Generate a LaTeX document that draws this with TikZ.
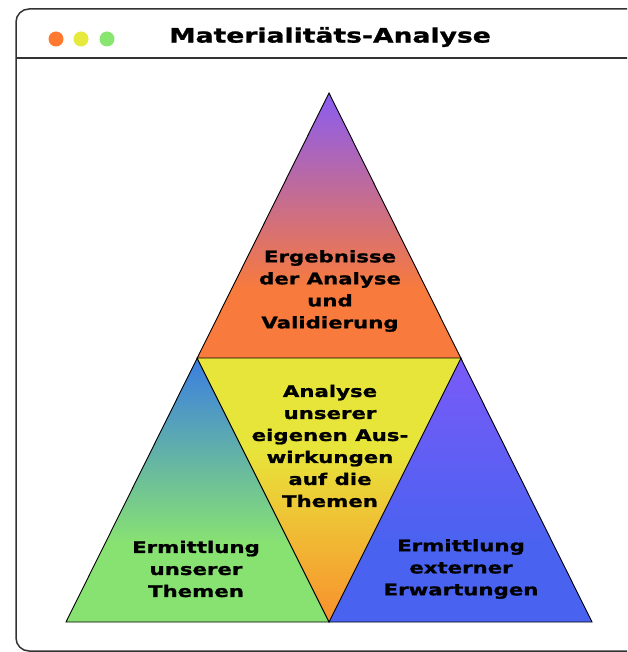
\documentclass[tikz,border=0pt]{standalone}
\usepackage{fontspec}
\usepackage{tikz}
\newfontfamily\widefont[FakeStretch=1.33,FakeBold=1.2]{DejaVu Sans}

\definecolor{dotorange}{HTML}{FF7A30}
\definecolor{dotyellow}{HTML}{E6EA3C}
\definecolor{dotgreen}{HTML}{88E670}
\definecolor{toppurple}{HTML}{8A5CF2}
\definecolor{toporange}{HTML}{F87A3C}
\definecolor{midyellow}{HTML}{E8E53A}
\definecolor{midorange}{HTML}{F8902E}
\definecolor{leftblue}{HTML}{3A7EE2}
\definecolor{leftgreen}{HTML}{88E272}
\definecolor{rightpurple}{HTML}{7A5AF8}
\definecolor{rightblue}{HTML}{4A62F0}
\definecolor{framegray}{HTML}{333333}

\pgfdeclareverticalshading{topgrad}{100bp}{color(0bp)=(toporange); color(38bp)=(toporange); color(75bp)=(toppurple); color(100bp)=(toppurple)}
\pgfdeclareverticalshading{midgrad}{100bp}{color(0bp)=(midorange); color(25bp)=(midorange); color(58bp)=(midyellow); color(100bp)=(midyellow)}
\pgfdeclareverticalshading{leftgrad}{100bp}{color(0bp)=(leftgreen); color(40bp)=(leftgreen); color(75bp)=(leftblue); color(100bp)=(leftblue)}
\pgfdeclareverticalshading{rightgrad}{100bp}{color(0bp)=(rightblue); color(40bp)=(rightblue); color(75bp)=(rightpurple); color(100bp)=(rightpurple)}

\begin{document}
\begin{tikzpicture}[x=1pt,y=-1pt,
    dot/.style={circle,inner sep=0pt,minimum size=15pt},
    part/.style={draw=black,line width=0.9pt,line join=miter},
    label/.style={align=center,inner sep=0pt,font=\widefont\bfseries\fontsize{16}{22}\selectfont}]
    \useasboundingbox (0,0) rectangle (627,652);
    % window
    \begin{scope}
        \clip (0,0) rectangle (627,652);
        \draw[framegray,line width=1.5pt,rounded corners=13pt] (16,9) rectangle (680,651);
        \draw[framegray,line width=1.5pt] (16,58) -- (680,58);
    \end{scope}
    \node[dot,fill=dotorange] (d1) at (56,39) {};
    \node[dot,fill=dotyellow] (d2) at (81,39) {};
    \node[dot,fill=dotgreen] (d3) at (107,39) {};
    \node[inner sep=0pt,font=\widefont\bfseries\fontsize{20}{24}\selectfont] (title) at (330,37) {Materialitäts-Analyse};

    % corners of the pyramid
    \coordinate (apex) at (329,93);
    \coordinate (ml) at (197,358);
    \coordinate (mr) at (461,358);
    \coordinate (bl) at (66,622);
    \coordinate (bm) at (329,622);
    \coordinate (br) at (592,622);

    \shade[shading=topgrad] (apex) -- (ml) -- (mr) -- cycle;
    \shade[shading=midgrad] (ml) -- (mr) -- (bm) -- cycle;
    \shade[shading=leftgrad] (ml) -- (bl) -- (bm) -- cycle;
    \shade[shading=rightgrad] (mr) -- (bm) -- (br) -- cycle;
    \draw[part] (apex) -- (bl) -- (br) -- cycle;
    \draw[part] (ml) -- (mr) -- (bm) -- cycle;

    \node[label] (results) at (330,291) {Ergebnisse\\der Analyse\\und\\Validierung};
    \node[label] (impact) at (330,446) {Analyse\\unserer\\eigenen Aus-\\wirkungen\\auf die\\Themen};
    \node[label] (own) at (196,569) {Ermittlung\\unserer\\Themen};
    \node[label] (external) at (461,569) {Ermittlung\\externer\\Erwartungen};
\end{tikzpicture}
\end{document}
